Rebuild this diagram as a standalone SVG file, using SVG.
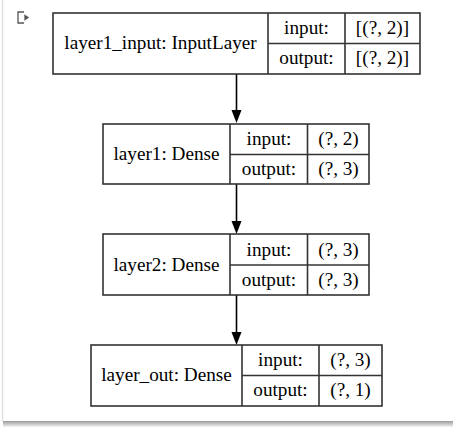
<svg xmlns="http://www.w3.org/2000/svg" width="453" height="427" viewBox="0 0 453 427">
<defs>
<style>
.box{fill:#fff;stroke:#333;stroke-width:1.6}
.ln{stroke:#333;stroke-width:1.6;fill:none}
text{font-family:"Liberation Serif","Times New Roman",serif;font-size:19.2px;fill:#000;text-anchor:middle}
.edge{stroke:#000;stroke-width:1.6;fill:none}
</style>
<linearGradient id="shadow" x1="0" y1="0" x2="0" y2="1">
<stop offset="0" stop-color="#9a9a9a"/>
<stop offset="1" stop-color="#f4f4f4"/>
</linearGradient>
</defs>
<rect width="453" height="427" fill="#fff"/>
<line x1="2.5" y1="0" x2="2.5" y2="421" stroke="#e0e0e0" stroke-width="1.5"/>
<rect x="3" y="421" width="450" height="6" fill="url(#shadow)"/>
<g id="icon" fill="none" stroke="#555" stroke-width="1.3">
<path d="M24 12 H18 V23 H24"/>
<path d="M25 15.5 L28 17.5 L25 19.5 Z" fill="#555"/>
</g>
<g id="connectors">
<line class="edge" x1="236.5" y1="74" x2="236.5" y2="112"/>
<polygon points="231.5,110 241.5,110 236.5,123" fill="#000"/>
<line class="edge" x1="236.5" y1="184" x2="236.5" y2="222"/>
<polygon points="231.5,221 241.5,221 236.5,234" fill="#000"/>
<line class="edge" x1="236.5" y1="295" x2="236.5" y2="333"/>
<polygon points="231.5,332 241.5,332 236.5,345" fill="#000"/>
</g>
<g id="layer1_input">
<rect class="box" x="53" y="13" width="367" height="61"/>
<line class="ln" x1="268" y1="13" x2="268" y2="74"/>
<line class="ln" x1="345" y1="13" x2="345" y2="74"/>
<line class="ln" x1="268" y1="43.5" x2="420" y2="43.5"/>
<text x="160.5" y="49">layer1_input: InputLayer</text>
<text x="306.5" y="34">input:</text>
<text x="382.5" y="34">[(?, 2)]</text>
<text x="306.5" y="64">output:</text>
<text x="382.5" y="64">[(?, 2)]</text>
</g>
<g id="layer1">
<rect class="box" x="103" y="124" width="266" height="60"/>
<line class="ln" x1="230" y1="124" x2="230" y2="184"/>
<line class="ln" x1="307.5" y1="124" x2="307.5" y2="184"/>
<line class="ln" x1="230" y1="154.5" x2="369" y2="154.5"/>
<text x="166.5" y="160">layer1: Dense</text>
<text x="269" y="145">input:</text>
<text x="338.5" y="145">(?, 2)</text>
<text x="269" y="175">output:</text>
<text x="338.5" y="175">(?, 3)</text>
</g>
<g id="layer2">
<rect class="box" x="103" y="234" width="266" height="61"/>
<line class="ln" x1="230" y1="234" x2="230" y2="295"/>
<line class="ln" x1="307.5" y1="234" x2="307.5" y2="295"/>
<line class="ln" x1="230" y1="265" x2="369" y2="265"/>
<text x="166.5" y="270.5">layer2: Dense</text>
<text x="269" y="255.5">input:</text>
<text x="338.5" y="255.5">(?, 3)</text>
<text x="269" y="285.5">output:</text>
<text x="338.5" y="285.5">(?, 3)</text>
</g>
<g id="layer_out">
<rect class="box" x="91" y="345" width="291" height="61"/>
<line class="ln" x1="242" y1="345" x2="242" y2="406"/>
<line class="ln" x1="319" y1="345" x2="319" y2="406"/>
<line class="ln" x1="242" y1="375.5" x2="382" y2="375.5"/>
<text x="166.5" y="381">layer_out: Dense</text>
<text x="280.5" y="366">input:</text>
<text x="350.5" y="366">(?, 3)</text>
<text x="280.5" y="396">output:</text>
<text x="350.5" y="396">(?, 1)</text>
</g>
</svg>
